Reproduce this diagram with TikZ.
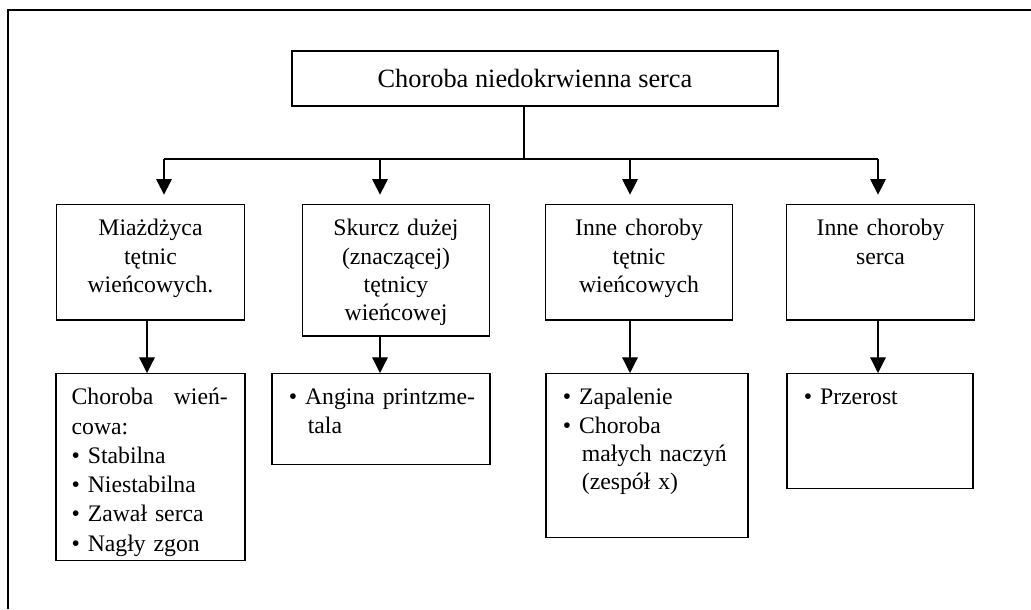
\documentclass[tikz,border=0pt]{standalone}
\usepackage{fontspec}
\setmainfont{Liberation Serif}
\usetikzlibrary{arrows.meta,positioning}

\begin{document}
\begin{tikzpicture}[>={Triangle[width=2.5mm,length=2.5mm]},font=\fontsize{10.8}{12.9}\selectfont]
\tikzset{
  frame/.style={line width=0.9pt},
  head/.style={draw,line width=0.65pt,minimum width=7.78cm,minimum height=0.88cm,inner sep=0pt,font=\fontsize{12}{14}\selectfont},
  group/.style={draw,line width=0.65pt,anchor=north,align=center,text width=2.8cm,inner xsep=0.1cm,inner ysep=0pt,text height=0.5cm},
  leaf/.style={draw,line width=0.65pt,anchor=north,align=left,inner xsep=0.27cm,inner ysep=0pt,text height=0.5cm},
  link/.style={line width=0.55pt},
  arr/.style={->,line width=0.55pt}
}
\useasboundingbox (0,0) rectangle (16.496,-9.744);
\draw[frame] (0.128,-9.744) -- (0.128,-0.16) -- (16.496,-0.16);

\node[head] (top) at (8.56,-1.256) {Choroba niedokrwienna serca};

% second level
\node[group,text depth=1.344cm] (m1) at (2.408,-3.264) {Miażdżyca\\tętnic\\wieńcowych.};
\node[group,text depth=1.6cm] (m2) at (6.336,-3.264) {Skurcz dużej\\(znaczącej)\\tętnicy\\wieńcowej};
\node[group,text depth=1.344cm] (m3) at (10.224,-3.264) {Inne choroby\\tętnic\\wieńcowych};
\node[group,text depth=1.344cm] (m4) at (14.088,-3.264) {Inne choroby\\serca};

% third level
\node[leaf,inner xsep=0.25cm,text width=2.524cm,text depth=2.492cm,font=\fontsize{10.8}{13.3}\selectfont] (c1) at (2.408,-5.968) {\makebox[2.5cm][s]{Choroba\hfill wień-}\\cowa:\\\textbullet\ Stabilna\\\textbullet\ Niestabilna\\\textbullet\ Zawał serca\\\textbullet\ Nagły zgon};
\node[leaf,text width=2.948cm,text depth=0.956cm] (c2) at (6.096,-5.968) {\mbox{\textbullet\ Angina printzme-}\\\hspace*{0.8em}tala};
\node[leaf,text width=2.692cm,text depth=2.124cm] (c3) at (10.352,-5.968) {\textbullet\ Zapalenie\\\textbullet\ Choroba\\\mbox{\hspace*{0.8em}małych naczyń}\\\hspace*{0.8em}(zespół x)};
\node[leaf,text width=2.436cm,text depth=1.34cm] (c4) at (14.08,-5.968) {\textbullet\ Przerost};

% connectors
\coordinate (split) at (8.384,-2.544);
\coordinate (j1) at (2.624,-2.544);
\coordinate (j2) at (6.08,-2.544);
\coordinate (j3) at (10.08,-2.544);
\coordinate (j4) at (14.048,-2.544);
\coordinate (k1) at (2.352,-2.544);
\draw[link] (top.south -| split) -- (split);
\draw[link] (j1) -- (j4);
\draw[arr,shorten >=0.15cm] (j1) -- (j1 |- m1.north);
\draw[arr,shorten >=0.15cm] (j2) -- (j2 |- m2.north);
\draw[arr,shorten >=0.15cm] (j3) -- (j3 |- m3.north);
\draw[arr,shorten >=0.15cm] (j4) -- (j4 |- m4.north);
\draw[arr] (k1 |- m1.south) -- (k1 |- c1.north);
\draw[arr] (j2 |- m2.south) -- (j2 |- c2.north);
\draw[arr] (j3 |- m3.south) -- (j3 |- c3.north);
\draw[arr] (j4 |- m4.south) -- (j4 |- c4.north);
\end{tikzpicture}
\end{document}
